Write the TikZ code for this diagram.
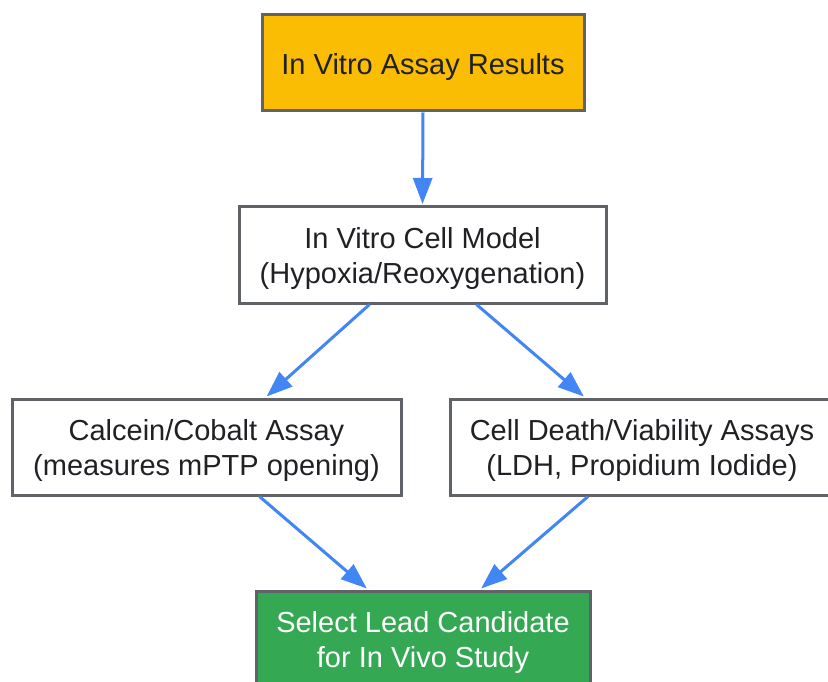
\documentclass[tikz,border=0pt]{standalone}
\usepackage{fontspec}
\setmainfont{Liberation Sans}
\usetikzlibrary{arrows.meta,positioning}
\definecolor{boxedge}{HTML}{5F6368}
\definecolor{assayorange}{HTML}{FBBC04}
\definecolor{leadgreen}{HTML}{34A853}
\definecolor{flowblue}{HTML}{4285F4}
\definecolor{inktext}{HTML}{202124}
\newcommand{\topstrut}{\rule{0pt}{29pt}}
\begin{document}
\begin{tikzpicture}[x=1pt,y=-1pt,
  stepbox/.style={draw=boxedge,line width=3pt,fill=white,text=inktext,align=center,
    minimum height=96pt,inner sep=0pt,font=\fontsize{29}{35}\selectfont},
  flow/.style={draw=flowblue,line width=3pt,shorten >=1.5pt,-{Triangle[length=26pt,width=19pt]}}]
\useasboundingbox (0,0) rectangle (828,682);
% boxes
\node [stepbox,fill=assayorange,minimum width=322pt] (results) at (423,63) {\topstrut In Vitro Assay Results};
\node [stepbox,minimum width=367pt] (cellmodel) at (422.5,255) {\topstrut In Vitro Cell Model\\(Hypoxia/Reoxygenation)};
\node [stepbox,minimum width=389pt] (calcein) at (206.5,447) {\topstrut Calcein/Cobalt Assay\\(measures mPTP opening)};
\node [stepbox,minimum width=384pt] (viability) at (642,447) {\topstrut Cell Death/Viability Assays\\(LDH, Propidium Iodide)};
\node [stepbox,fill=leadgreen,text=white,minimum width=334pt] (lead) at (423,639) {\topstrut Select Lead Candidate\\for In Vivo Study};
% arrows
\draw [flow] (results.south) -- (cellmodel.north);
\draw [flow] ([xshift=-53pt]cellmodel.south) -- ([xshift=59pt]calcein.north);
\draw [flow] ([xshift=54pt]cellmodel.south) -- ([xshift=-57pt]viability.north);
\draw [flow] ([xshift=53pt]calcein.south) -- ([xshift=-55pt]lead.north);
\draw [flow] ([xshift=-54pt]viability.south) -- ([xshift=57pt]lead.north);
\end{tikzpicture}
\end{document}
